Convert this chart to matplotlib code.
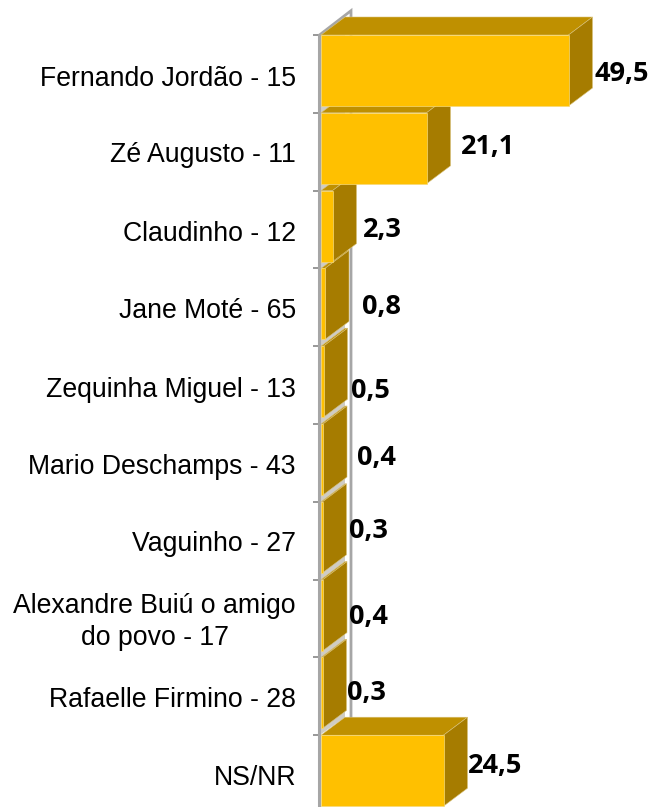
import matplotlib
matplotlib.use('Agg')
import matplotlib.pyplot as plt
from matplotlib.patches import Polygon

names = ['Fernando Jordão - 15', 'Zé Augusto - 11', 'Claudinho - 12', 'Jane Moté - 65',
         'Zequinha Miguel - 13', 'Mario Deschamps - 43', 'Vaguinho - 27',
         'Alexandre Buiú o amigo\ndo povo - 17', 'Rafaelle Firmino - 28', 'NS/NR']
values = [49.5, 21.1, 2.3, 0.8, 0.5, 0.4, 0.3, 0.4, 0.3, 24.5]
labels = ['49,5', '21,1', '2,3', '0,8', '0,5', '0,4', '0,3', '0,4', '0,3', '24,5']
# label offset from the bar end (x units, categories)
label_dx = [5.2, 6.8, 6.0, 7.4, 5.6, 6.8, 5.4, 5.2, 5.0, 4.9]
label_y = [0.50, 1.44, 2.51, 3.50, 4.58, 5.44, 6.38, 7.48, 8.46, 9.39]
# name position inside each category slot
name_y = [0.53, 0.51, 0.52, 0.51, 0.52, 0.51, 0.51, 0.47, 0.51, 0.51]

W, H = 652, 807
x0, top, pitch = 321, 35, 77.8
px_x = 5.0          # pixels per unit
depth_x = 24 / px_x
depth_y = 18 / pitch
bar_h = 71 / pitch

fig = plt.figure(figsize=(W / 100, H / 100), dpi=100)
ax = fig.add_axes([x0 / W, 0, (W - x0) / W, (H - top) / H])
ax.set_xlim(0, (W - x0) / px_x)
ax.set_ylim((H - top) / pitch, 0)
for s in ax.spines.values():
    s.set_visible(False)
ax.spines['left'].set_visible(True)
ax.spines['left'].set_color('#a6a6a6')
ax.spines['left'].set_linewidth(2.2)
ax.spines['left'].set_position(('outward', 1.6))
ax.set_xticks([])

ax.set_yticks(range(len(names)))
ax.set_yticklabels([])
ax.tick_params(axis='y', which='major', length=4.5, width=1.2, color='#868686')
ax.set_yticks([i + name_y[i] for i in range(len(names))], minor=True)
ax.set_yticklabels(names, minor=True, fontsize=19.15, family='Liberation Sans', color='black',
                   multialignment='center', linespacing=1.28)
ax.tick_params(axis='y', which='minor', length=0, pad=16.4)

# pale side wall behind the bars, grey back edge
ax.add_patch(Polygon([(-0.3, 0), (depth_x, -depth_y), (depth_x, 9 - depth_y), (-0.3, 9)],
                     facecolor='#cfccc4', edgecolor='none', clip_on=False, zorder=1))
ax.plot([-0.3, depth_x * 1.25, depth_x * 1.25], [0, -depth_y * 1.35, 9 - depth_y], color='#a6a6a6', lw=2,
        clip_on=False, zorder=1.5, solid_joinstyle='miter')

# draw from the bottom up so upper bars sit over lower side faces
for i in range(len(values) - 1, -1, -1):
    v = values[i]
    z = 3 + (len(values) - i) * 0.1
    ax.add_patch(Polygon([(0, i), (v, i), (v + depth_x, i - depth_y), (depth_x, i - depth_y)],
                         facecolor='#bf9000', edgecolor='#d9c27a', lw=0.4, clip_on=False, zorder=z))
    ax.add_patch(Polygon([(v, i), (v + depth_x, i - depth_y), (v + depth_x, i + bar_h - depth_y), (v, i + bar_h)],
                         facecolor='#a67c00', edgecolor='#d9c27a', lw=0.4, clip_on=False, zorder=z))
    ax.add_patch(Polygon([(0, i), (v, i), (v, i + bar_h), (0, i + bar_h)],
                         facecolor='#ffc000', edgecolor='#f5d97a', lw=0.5, clip_on=False, zorder=z))
    ax.text(v + label_dx[i], label_y[i], labels[i], fontsize=19.5, fontweight='bold', family='Open Sans',
            ha='left', va='center', color='black', zorder=6, clip_on=False)

fig.savefig('out.png', dpi=100)
